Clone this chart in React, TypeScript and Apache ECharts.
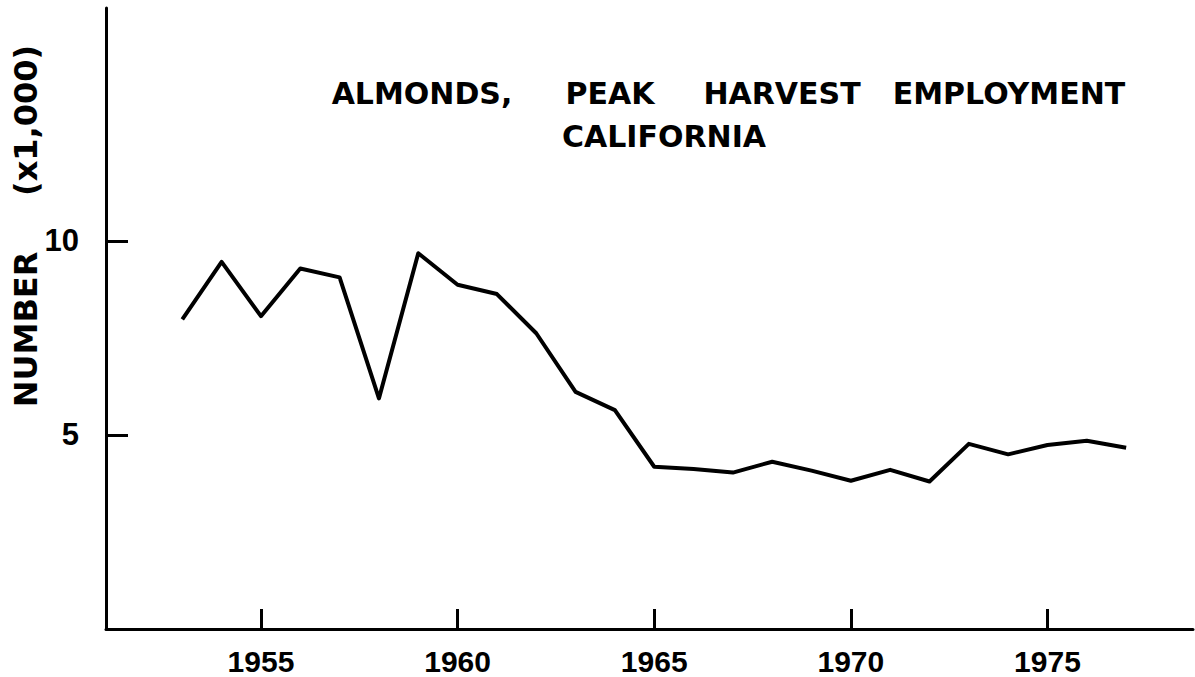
import React, { useEffect, useRef } from "react";
import * as echarts from "echarts";

const years = [1953, 1954, 1955, 1956, 1957, 1958, 1959, 1960, 1961, 1962, 1963, 1964, 1965, 1966, 1967, 1968, 1969, 1970, 1971, 1972, 1973, 1974, 1975, 1976, 1977];
const employment = [7.98, 9.46, 8.06, 9.29, 9.06, 5.94, 9.68, 8.87, 8.63, 7.62, 6.11, 5.64, 4.18, 4.12, 4.03, 4.31, 4.08, 3.82, 4.1, 3.8, 4.77, 4.5, 4.74, 4.85, 4.67];
const xTicks = [1955, 1960, 1965, 1970, 1975];
const yTicks = [5, 10];
const titleWords = ["ALMONDS,", "PEAK", "HARVEST", "EMPLOYMENT"];
const subtitle = "CALIFORNIA";
const yName = "NUMBER     (x1,000)";

export default function App() {
  const ref = useRef<HTMLDivElement>(null);
  useEffect(() => {
    if (!ref.current) return;
    const chart = echarts.init(ref.current, null, { renderer: "svg" });
    const titleFont = "'DejaVu Sans', sans-serif";
    const numFont = "'Liberation Sans', Arial, sans-serif";
    const wordCenters = [422, 610, 782, 1009];
    chart.setOption({
      animation: false,
      backgroundColor: "#ffffff",
      grid: { left: 106, right: 2, top: 8, bottom: 48 },
      xAxis: {
        type: "value",
        min: 1951.06,
        max: 1978.7,
        axisLine: { show: true, lineStyle: { color: "#000", width: 3 } },
        axisTick: { show: true, inside: true, length: 20, customValues: xTicks, lineStyle: { color: "#000", width: 3 } },
        axisLabel: {
          customValues: xTicks,
          formatter: (v: number) => String(Math.round(v)),
          color: "#000",
          fontFamily: numFont,
          fontWeight: "bold",
          fontSize: 30,
          margin: 17,
        },
        splitLine: { show: false },
      },
      yAxis: {
        type: "value",
        min: 0,
        max: 16,
        axisLine: { show: true, lineStyle: { color: "#000", width: 3 } },
        axisTick: { show: true, inside: true, length: 22, customValues: yTicks, lineStyle: { color: "#000", width: 3 } },
        axisLabel: {
          customValues: yTicks,
          formatter: (v: number) => String(Math.round(v)),
          color: "#000",
          fontFamily: numFont,
          fontWeight: "bold",
          fontSize: 31,
          margin: 27,
        },
        splitLine: { show: false },
      },
      graphic: [
        ...titleWords.map((w, i) => ({
          type: "text",
          x: wordCenters[i],
          y: 93,
          style: { text: w, fill: "#000", font: `bold 30px ${titleFont}`, align: "center", verticalAlign: "middle" },
        })),
        {
          type: "text",
          x: 664,
          y: 136,
          style: { text: subtitle, fill: "#000", font: `bold 30px ${titleFont}`, align: "center", verticalAlign: "middle" },
        },
        {
          type: "text",
          x: 26,
          y: 226,
          rotation: Math.PI / 2,
          style: { text: yName, fill: "#000", font: `bold 32px ${titleFont}`, align: "center", verticalAlign: "middle" },
        },
      ],
      series: [
        {
          type: "line",
          data: years.map((y, i) => [y, employment[i]]),
          showSymbol: false,
          lineStyle: { color: "#000", width: 4, join: "round" },
        },
      ],
    });
    return () => chart.dispose();
  }, []);
  return <div ref={ref} style={{ position: "absolute", left: 0, top: 0, width: 1195, height: 677 }} />;
}
